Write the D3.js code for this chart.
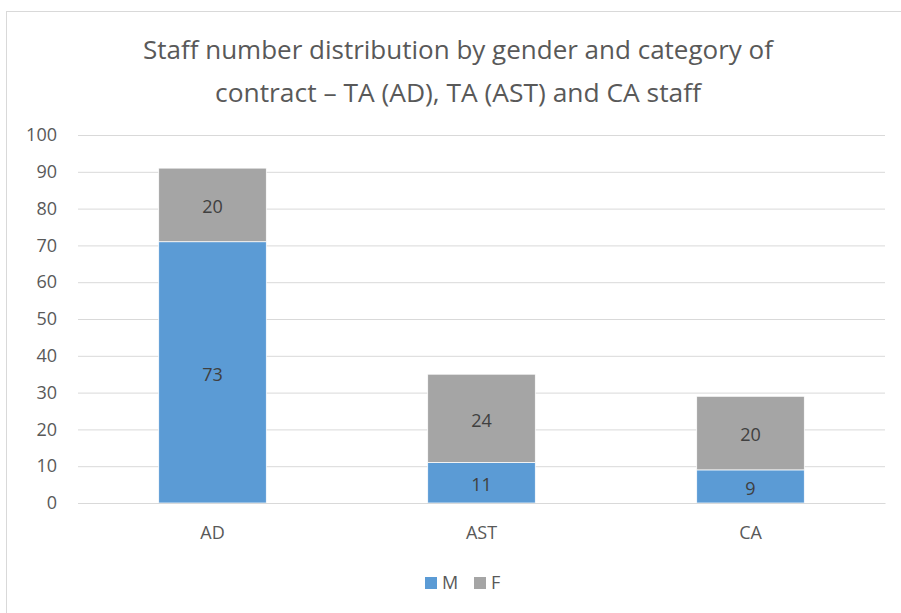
<!DOCTYPE html>
<html>
<head>
<meta charset="utf-8">
<script src="https://cdn.jsdelivr.net/npm/d3@7"></script>
<style>
  body { margin: 0; background: #fff; }
  svg { display: block; font-family: "Open Sans", sans-serif; }
</style>
</head>
<body>
<div id="wrapper"></div>
<script>
// data
const categories = ["AD", "AST", "CA"]
const seriesNames = ["M", "F"]
const maleValues = [71, 11, 9]
const femaleValues = [20, 24, 20]
// the printed labels (the AD one says 73 although the bar stops at 71)
const maleLabels = [73, 11, 9]
const femaleLabels = [20, 24, 20]
const yTicks = [0, 10, 20, 30, 40, 50, 60, 70, 80, 90, 100]
const titleLines = [
  "Staff number distribution by gender and category of",
  "contract \u2013 TA (AD), TA (AST) and CA staff"
]

const colors = { M: "#5b9bd5", F: "#a5a5a5" }
const textColor = "#595959"
const gridColor = "#d9d9d9"

function drawChart() {
  const dataset = categories.map((c, i) => ({
    cat: c, M: maleValues[i], F: femaleValues[i],
    labels: { M: maleLabels[i], F: femaleLabels[i] }
  }))

  // 2. dimensions
  let dimensions = {
    width: 901,
    height: 613,
    margin: { top: 135, right: 16, bottom: 110, left: 78 },
  }
  dimensions.boundedWidth = dimensions.width - dimensions.margin.left - dimensions.margin.right
  dimensions.boundedHeight = dimensions.height - dimensions.margin.top - dimensions.margin.bottom

  // 3. canvas
  const wrapper = d3.select("#wrapper")
    .append("svg")
      .attr("width", dimensions.width)
      .attr("height", dimensions.height)

  // chart frame (runs off the right and bottom edges)
  wrapper.append("rect")
      .attr("x", 6.5)
      .attr("y", 11.5)
      .attr("width", 920)
      .attr("height", 640)
      .attr("fill", "#fff")
      .attr("stroke", gridColor)

  const titleWidths = [630, 486]
  wrapper.append("g").selectAll("text")
    .data(titleLines)
    .join("text")
      .attr("x", 458)
      .attr("y", (d, i) => 59 + i * 43)
      .attr("text-anchor", "middle")
      .attr("fill", textColor)
      .attr("font-size", 26)
      .attr("textLength", (d, i) => titleWidths[i])
      .attr("lengthAdjust", "spacingAndGlyphs")
      .text(d => d)

  const bounds = wrapper.append("g")
      .attr("transform", `translate(${dimensions.margin.left},${dimensions.margin.top})`)

  // 4. scales
  const yScale = d3.scaleLinear()
    .domain([0, 100])
    .range([dimensions.boundedHeight, 0])

  const xScale = d3.scaleBand()
    .domain(categories)
    .range([0, dimensions.boundedWidth])
    .paddingInner(0.6)
    .paddingOuter(0.3)

  // 6a. gridlines + y labels
  const yAxisGenerator = d3.axisLeft(yScale)
    .tickValues(yTicks)
    .tickSize(-dimensions.boundedWidth)
    .tickPadding(21)

  const yAxis = bounds.append("g").call(yAxisGenerator)
  yAxis.select(".domain").remove()
  yAxis.selectAll(".tick line").attr("stroke", gridColor)
  yAxis.selectAll(".tick text")
      .attr("fill", textColor)
      .attr("font-size", 18)
      .attr("font-family", "Open Sans")

  // 5. stacked bars
  const stacked = d3.stack().keys(seriesNames)(dataset)

  const layers = bounds.selectAll(".layer")
    .data(stacked)
    .join("g")
      .attr("class", "layer")
      .attr("fill", d => colors[d.key])

  layers.selectAll("rect")
    .data(d => d.map(p => Object.assign(p, { key: d.key })))
    .join("rect")
      .attr("x", d => xScale(d.data.cat))
      .attr("y", d => yScale(d[1]))
      .attr("width", xScale.bandwidth())
      .attr("height", d => yScale(d[0]) - yScale(d[1]))
      .attr("stroke", "#fff")
      .attr("stroke-width", 0.75)

  layers.selectAll("text")
    .data(d => d)
    .join("text")
      .attr("x", d => xScale(d.data.cat) + xScale.bandwidth() / 2)
      .attr("y", d => (yScale(d[0]) + yScale(d[1])) / 2 + 2)
      .attr("dy", "0.35em")
      .attr("text-anchor", "middle")
      .attr("fill", "#404040")
      .attr("font-size", 18)
      .text(d => d.data.labels[d.key])

  // 6b. x axis
  const xAxisGenerator = d3.axisBottom(xScale)
    .tickSize(0)
    .tickPadding(23)

  const xAxis = bounds.append("g")
      .attr("transform", `translate(0,${dimensions.boundedHeight})`)
      .call(xAxisGenerator)
  xAxis.select(".domain").attr("stroke", gridColor)
  xAxis.selectAll(".tick text")
      .attr("fill", textColor)
      .attr("font-size", 18)
      .attr("font-family", "Open Sans")

  // legend
  const legendX = [425, 474]
  const legend = wrapper.append("g").selectAll("g")
    .data(seriesNames)
    .join("g")
      .attr("transform", (d, i) => `translate(${legendX[i]},577)`)
  legend.append("rect")
      .attr("width", 12)
      .attr("height", 12)
      .attr("fill", d => colors[d])
  legend.append("text")
      .attr("x", 17)
      .attr("y", 12)
      .attr("fill", textColor)
      .attr("font-size", 18)
      .text(d => d)
}

drawChart()
</script>
</body>
</html>
